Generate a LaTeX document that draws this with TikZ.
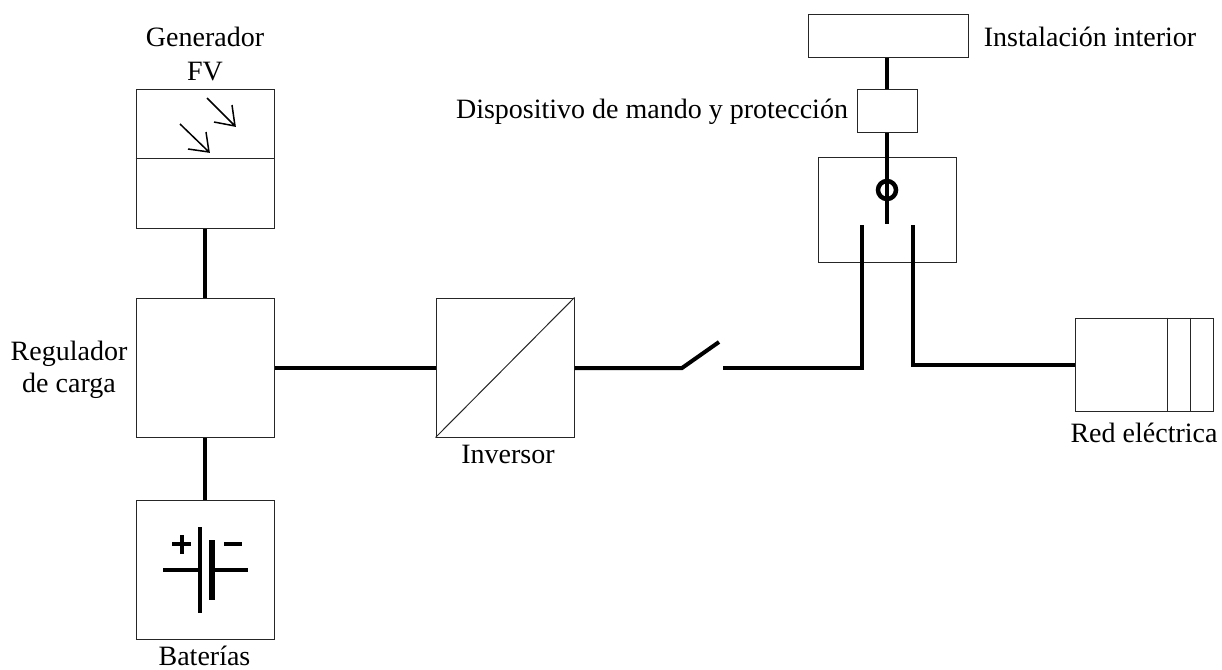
\documentclass[tikz,border=0pt]{standalone}
\usepackage{fontspec}
\setmainfont{Liberation Serif}
\tikzset{
  x=1pt,y=-1pt,
  blk/.style={draw=black!85,line width=1pt,inner sep=0pt,anchor=north west},
  wire/.style={line width=4pt,line cap=butt,line join=miter},
  thin wire/.style={line width=1pt,draw=black!85},
  arrowline/.style={line width=1.5pt},
  lbl/.style={font=\fontsize{28}{32}\selectfont,inner sep=0pt,align=center}
}
\begin{document}
\begin{tikzpicture}
\useasboundingbox (0,0) rectangle (1222,669);
\node[blk,minimum width=138pt,minimum height=139pt] (gen) at (135.5,88.5) {};
\node[blk,minimum width=138pt,minimum height=139pt] (reg) at (135.5,297.5) {};
\node[blk,minimum width=138pt,minimum height=139pt] (bat) at (135.5,499.5) {};
\node[blk,minimum width=138pt,minimum height=139pt] (inv) at (435.5,297.5) {};
\node[blk,minimum width=160pt,minimum height=43pt] (inst) at (807.5,14.5) {};
\node[blk,minimum width=60pt,minimum height=43pt] (disp) at (856.5,88.5) {};
\node[blk,minimum width=138pt,minimum height=105pt] (cont) at (817.5,156.5) {};
\node[blk,minimum width=138pt,minimum height=93pt] (red) at (1074.5,317.5) {};
% details
\draw[thin wire] (135.5,158.5) -- (273.5,158.5);
\draw[thin wire] (inv.south west) -- (inv.north east);
\draw[thin wire] (1167,317.5) -- (1167,410.5);
\draw[thin wire] (1190,317.5) -- (1190,410.5);
% light arrows
\draw[arrowline] (207,98) -- (235,126) (232,105) -- (235,126) -- (214,122);
\draw[arrowline] (180,124) -- (209,152) (206,132) -- (209,152) -- (188,149);
% wires
\draw[wire] (gen.south) -- (reg.north);
\draw[wire] (reg.south) -- (bat.north);
\coordinate (sw1) at (682,368);
\coordinate (sw2) at (719,342);
\coordinate (sw3) at (723,368);
\coordinate (t1) at (862,225);
\coordinate (t2) at (913,225);
\coordinate (t3) at (887,224);
\draw[wire] (reg.east |- sw1) -- (inv.west |- sw1);
\draw[wire] (inv.east |- sw1) -- (sw1) -- (sw2);
\draw[wire] (sw3) -- (862,368) -- (t1);
\draw[wire] (t2) -- (913,365) -- (red.west |- 0,365);
\draw[wire] (inst.south -| t3) -- (disp.north -| t3);
\draw[wire] (disp.south -| t3) -- (t3);
\node[draw,line width=4.5pt,circle,minimum size=18pt,inner sep=0pt] (sw) at (887,190) {};
% battery
\draw[line width=3.4pt] (200,527) -- (200,613);
\draw[line width=6.5pt] (212,540) -- (212,600);
\draw[line width=3.4pt] (163,570) -- (200,570) (212,570) -- (248,570);
\draw[line width=3.6pt] (172,544) -- (191,544) (182,535) -- (182,554);
\draw[line width=3.6pt] (224,544) -- (242,544);
% labels
\node[lbl] (l1) at (205,54) {Generador\\[2pt]FV};
\node[lbl] (l2) at (69,370) {Regulador\\de carga};
\node[lbl,anchor=base] (l3) at (204.5,665) {Baterías};
\node[lbl,anchor=base] (l4) at (508,463) {Inversor};
\node[lbl,anchor=base] (l5) at (1090,46) {Instalación interior};
\node[lbl,anchor=base] (l6) at (652,118) {Dispositivo de mando y protección};
\node[lbl,anchor=base] (l7) at (1144,442) {Red eléctrica};
\end{tikzpicture}
\end{document}
